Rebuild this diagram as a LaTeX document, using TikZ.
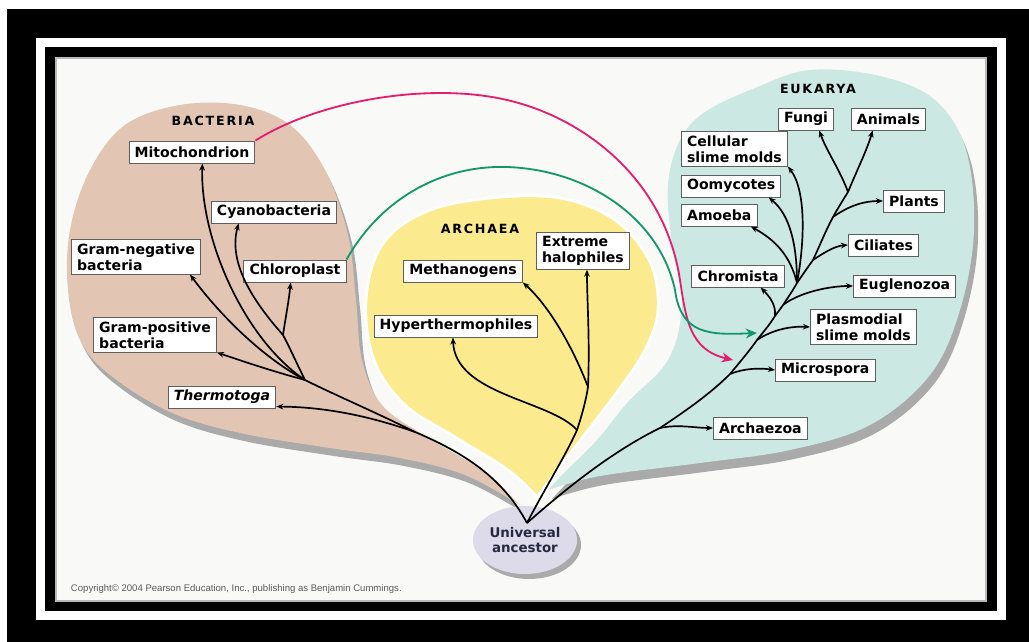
\documentclass[tikz,border=0pt]{standalone}
\usepackage{fontspec}
\setmainfont{DejaVu Sans}
\newfontfamily\domainfont{DejaVu Sans}[LetterSpace=14]
\newfontfamily\notefont{Liberation Sans}
\usetikzlibrary{arrows.meta, positioning, shapes.geometric}

\definecolor{tanfill}{RGB}{227,197,180}
\definecolor{yellowfill}{RGB}{251,235,142}
\definecolor{tealfill}{RGB}{203,232,226}
\definecolor{ancestorfill}{RGB}{221,218,234}
\definecolor{ancestortext}{RGB}{40,40,64}
\definecolor{boxline}{RGB}{95,95,95}
\definecolor{shadowgray}{RGB}{170,170,170}
\definecolor{mitolink}{RGB}{228,30,110}
\definecolor{chlorolink}{RGB}{20,150,110}
\definecolor{panel}{RGB}{249,249,247}

\begin{document}
\begin{tikzpicture}[
x=0.025cm, y=-0.025cm,
box/.style={draw=boxline, fill=white, line width=0.7pt, align=left, inner xsep=4pt, inner ysep=2.5pt, minimum height=0.55cm, font=\fontsize{10}{11.5}\selectfont\bfseries},
domaintitle/.style={font=\domainfont\fontsize{9}{10}\selectfont\bfseries},
ancestor/.style={ellipse, fill=ancestorfill, minimum width=2.6cm, minimum height=1.7cm, inner sep=0pt, align=center, text=ancestortext, font=\fontsize{9.5}{11}\selectfont\bfseries},
stem/.style={line width=1.2pt},
arrow/.style={-{Stealth[length=5pt, width=4pt]}, line width=1.2pt},
link/.style={-{Stealth[length=8pt, width=7pt]}, line width=1.3pt}
]
\useasboundingbox (0,0) rectangle (1029,642);

% frame
\fill[white] (0,0) rectangle (1029,642);
\fill[black] (7,9) rectangle (1029,642);
\fill[white] (36,38) rectangle (1006,620);
\fill[black] (45,47) rectangle (997,611);
\fill[panel] (55,57) rectangle (987,602);
\draw[gray!55, line width=2pt] (56,58) rectangle (986,601);

% domains
\foreach \dx/\dy/\tint in {4/8/shadowgray, 0/0/tanfill}
  \fill[\tint, shift={(\dx,\dy)}] plot[smooth, tension=0.6] coordinates {(520,505) (478,468) (425,436) (382,405) (362,360) (356,300) (348,235) (325,170) (290,125) (240,105) (180,105) (125,125) (90,170) (70,230) (68,290) (80,340) (110,375) (170,412) (240,433) (330,448) (400,458) (465,475) (520,505)} -- cycle;
\fill[yellowfill, draw=white, line width=2pt] plot[smooth, tension=0.6] coordinates {(537,497) (508,470) (455,437) (405,405) (374,360) (366,300) (382,245) (425,212) (490,198) (560,198) (615,220) (650,262) (658,310) (645,350) (620,388) (592,425) (565,460) (537,497)} -- cycle;
\foreach \dx/\dy/\tint in {4/9/shadowgray, 0/0/tealfill}
  \fill[\tint, shift={(\dx,\dy)}] plot[smooth, tension=0.6] coordinates {(548,490) (600,476) (700,463) (790,450) (870,425) (930,375) (960,310) (974,230) (966,150) (935,100) (880,76) (810,70) (755,88) (705,112) (680,140) (668,185) (672,245) (682,305) (668,360) (628,402) (597,440) (565,472) (548,490)} -- cycle;

\node[domaintitle] (bacteria) at (213,121) {BACTERIA};
\node[domaintitle] (archaea) at (480,229) {ARCHAEA};
\node[domaintitle] (eukarya) at (818,89) {EUKARYA};

% root
\fill[shadowgray] (529,545) ellipse [x radius=52, y radius=34];
\node[ancestor] (ancestor) at (525,540) {Universal\\ancestor};
\coordinate (root) at (527,523);

% bacteria
\node[box] (mito) at (192,152) {Mitochondrion};
\node[box] (cyano) at (274,212) {Cyanobacteria};
\node[box] (gramneg) at (136,257) {Gram-negative\\bacteria};
\node[box] (chloro) at (295,271) {Chloroplast};
\node[box] (grampos) at (155,335) {Gram-positive\\bacteria};
\node[box] (thermo) at (222,397) {\itshape Thermotoga};

% archaea
\node[box] (methano) at (463,271) {Methanogens};
\node[box] (halo) at (583,251) {Extreme\\halophiles};
\node[box] (hyper) at (456,326) {Hyperthermophiles};

% eukarya
\node[box] (fungi) at (806,119) {Fungi};
\node[box, right=0.42cm of fungi] (animals) {Animals};
\node[box, anchor=west] (cellular) at (681,149) {Cellular\\slime molds};
\node[box, below=0.2cm of cellular.south west, anchor=north west] (oomy) {Oomycotes};
\node[box, below=0.15cm of oomy.south west, anchor=north west] (amoeba) {Amoeba};
\node[box, anchor=west] (plants) at (883,201) {Plants};
\node[box, anchor=west] (ciliates) at (848,245) {Ciliates};
\node[box] (chromista) at (738,276) {Chromista};
\node[box, anchor=west] (eugleno) at (853,286) {Euglenozoa};
\node[box, anchor=west] (plasmo) at (810,327) {Plasmodial\\slime molds};
\node[box, anchor=west] (microspora) at (775,370) {Microspora};
\node[box, anchor=west] (archaezoa) at (713,428) {Archaezoa};

\node[anchor=west, font=\notefont\fontsize{6.8}{8}\selectfont, text=gray!70!black] (credit) at (66,589) {Copyright© 2004 Pearson Education, Inc., publishing as Benjamin Cummings.};

% branch points
\coordinate (bfork) at (415,432);
\coordinate (bhub) at (305,380);
\coordinate (bsplit) at (283,335);
\coordinate (afork) at (577,430);
\coordinate (asplit) at (588,387);
\coordinate (ezoa) at (660,428);
\coordinate (emicro) at (730,374);
\coordinate (eplasmo) at (757,340);
\coordinate (echrom) at (775,316);
\coordinate (eeugl) at (783,305);
\coordinate (ehub) at (797,283);
\coordinate (ecil) at (813,260);
\coordinate (eplant) at (833,217);
\coordinate (ecrown) at (848,192);
\coordinate (mitoend) at (733,360);
\coordinate (chloroend) at (757,333);

% bacteria tree
\draw[stem] (root) .. controls (505,482) and (470,455) .. (bfork);
\draw[arrow] (bfork) .. controls (375,418) and (330,407) .. (thermo.-10);
\draw[stem] (bfork) .. controls (375,412) and (335,395) .. (bhub);
\draw[arrow] (bhub) .. controls (275,372) and (245,362) .. (grampos.south east);
\draw[arrow] (bhub) .. controls (262,357) and (220,315) .. (gramneg.-18);
\draw[arrow] (bhub) .. controls (245,340) and (200,240) .. (mito.-48);
\draw[stem] (bhub) .. controls (296,362) and (290,348) .. (bsplit);
\draw[arrow] (bsplit) .. controls (252,300) and (228,262) .. (cyano.-162);
\draw[arrow] (bsplit) .. controls (286,315) and (289,300) .. (chloro.-111);

% archaea tree
\draw[stem] (root) .. controls (545,488) and (566,455) .. (afork);
\draw[arrow] (afork) .. controls (550,400) and (455,395) .. (hyper.-105);
\draw[stem] (afork) .. controls (582,415) and (586,400) .. (asplit);
\draw[arrow] (asplit) .. controls (572,345) and (548,305) .. (methano.south east);
\draw[arrow] (asplit) .. controls (590,340) and (587,300) .. (halo.-78);

% eukarya tree
\draw[stem] (root) .. controls (570,485) and (615,450) .. (ezoa);
\draw[arrow] (ezoa) .. controls (678,424) and (695,428) .. (archaezoa.west);
\draw[stem] (ezoa) .. controls (690,408) and (712,392) .. (emicro);
\draw[arrow] (emicro) .. controls (745,368) and (760,368) .. (microspora.west);
\draw[stem] (emicro) .. controls (740,362) and (750,350) .. (eplasmo);
\draw[arrow] (eplasmo) .. controls (772,330) and (790,326) .. (plasmo.west);
\draw[stem] (eplasmo) .. controls (765,330) and (770,324) .. (echrom);
\draw[arrow] (echrom) .. controls (776,305) and (770,297) .. (chromista.-27);
\draw[stem] (echrom) .. controls (778,312) and (781,308) .. (eeugl);
\draw[arrow] (eeugl) .. controls (800,292) and (830,286) .. (eugleno.west);
\draw[stem] (eeugl) .. controls (789,296) and (793,290) .. (ehub);
\draw[arrow] (ehub) .. controls (790,255) and (775,240) .. (amoeba.-20);
\draw[arrow] (ehub) .. controls (797,245) and (790,215) .. (oomy.-17);
\draw[arrow] (ehub) .. controls (805,240) and (806,190) .. (cellular.south east);
\draw[stem] (ehub) .. controls (803,274) and (808,267) .. (ecil);
\draw[arrow] (ecil) .. controls (825,252) and (835,246) .. (ciliates.west);
\draw[stem] (ecil) .. controls (820,245) and (826,230) .. (eplant);
\draw[arrow] (eplant) .. controls (850,205) and (865,201) .. (plants.west);
\draw[stem] (eplant) .. controls (838,208) and (843,200) .. (ecrown);
\draw[arrow] (ecrown) .. controls (840,170) and (826,150) .. (fungi.-41);
\draw[arrow] (ecrown) .. controls (857,170) and (867,150) .. (animals.-144);

% endosymbiosis
\draw[link, mitolink] (mito.north east) .. controls (320,100) and (430,82) .. (507,100) .. controls (585,118) and (665,180) .. (680,280) .. controls (686,320) and (690,350) .. (mitoend);
\draw[link, chlorolink] (chloro.north east) .. controls (380,200) and (440,165) .. (507,167) .. controls (590,170) and (660,220) .. (675,290) .. controls (681,335) and (710,335) .. (chloroend);
\end{tikzpicture}
\end{document}
